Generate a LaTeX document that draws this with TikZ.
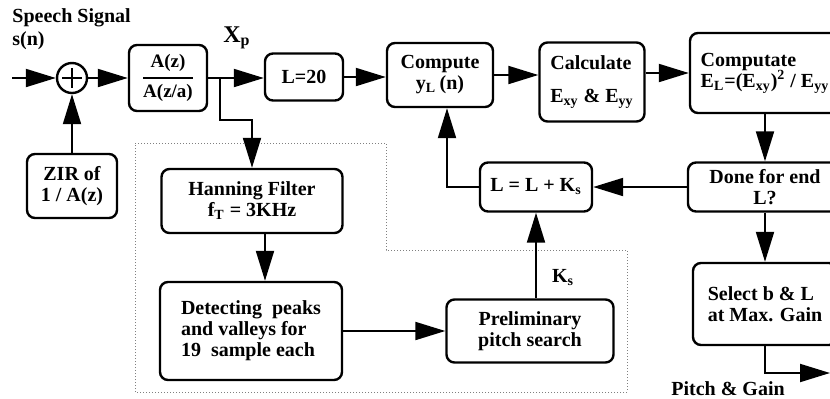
\documentclass[tikz,border=0pt]{standalone}
\usepackage{amsmath}
\usepackage{fontspec}
\setmainfont{Liberation Serif}
\usetikzlibrary{arrows.meta,calc}
\tikzset{
  blk/.style={draw, line width=1.2pt, rounded corners=4pt, align=center,
              font=\bfseries\fontsize{10}{10.5}\selectfont, inner sep=2pt},
  sumnode/.style={circle, draw, line width=1.2pt, minimum size=15pt, inner sep=0pt},
  sig/.style={line width=1pt, -{Triangle[length=15pt,width=9pt]}},
  lbl/.style={font=\bfseries\fontsize{10}{10.5}\selectfont, inner sep=0pt},
  zone/.style={densely dotted, gray, line width=0.5pt},
}

\begin{document}
\begin{tikzpicture}[x=0.5pt, y=-0.5pt]
  \clip (0,0) rectangle (830,398);
  \draw[zone] (135,143) -- (386,143) -- (386,250) -- (627,250) -- (627,392) -- (135,392) -- cycle;

  \node[lbl, anchor=west] (spl) at (12,18) {Speech Signal};
  \node[lbl, anchor=west] (sn) at (12,41) {s(n)};
  \coordinate (in) at (12,78);
  \node[sumnode] (sum) at (72,78) {};
  \draw[line width=1.2pt] ($(sum)+(-10,0)$) -- ($(sum)+(10,0)$)
                          ($(sum)+(0,-10)$) -- ($(sum)+(0,10)$);
  \node[blk, minimum width=39pt, minimum height=33pt,
        font=\bfseries\fontsize{9.5}{10}\selectfont] (filt) at (168,78)
    {$\genfrac{}{}{0.9pt}{0}{\mbox{A(z)}}{\mbox{A(z/a)}}$};
  \node[lbl, font=\bfseries\fontsize{12}{12}\selectfont] (xp) at (237,38) {X\textsubscript{p}};
  \node[blk, minimum width=39pt, minimum height=23.5pt] (l20) at (304,77) {L=20};
  \node[blk, minimum width=53pt, minimum height=32pt] (comp) at (440,75)
    {Compute\\y\textsubscript{L}\,(n)};
  \node[blk, minimum width=52.5pt, minimum height=39.5pt, align=left] (calc) at (592,82)
    {Calculate\\[6pt]E\textsubscript{xy} \& E\textsubscript{yy}};
  \node[blk, minimum width=75pt, minimum height=40pt, align=left] (compt) at (765,73)
    {Computate\\E\textsubscript{L}=(E\textsubscript{xy})\textsuperscript{2} / E\textsubscript{yy}};
  \node[blk, minimum width=77pt, minimum height=24.5pt] (done) at (765,187)
    {Done for end\\L?};
  \node[blk, minimum width=56pt, minimum height=24.5pt] (lpk) at (536,187)
    {L = L + K\textsubscript{s}};
  \node[blk, minimum width=72pt, minimum height=41pt, align=left] (sel) at (765,304)
    {Select b \& L\\at Max. Gain};
  \node[blk, minimum width=45pt, minimum height=32pt] (zir) at (72,186)
    {ZIR of\\1 / A(z)};
  \node[blk, minimum width=90.5pt, minimum height=32pt] (han) at (252,201)
    {Hanning Filter\\f\textsubscript{T} = 3KHz};
  \node[blk, minimum width=91pt, minimum height=49pt, align=left] (det) at (251,331)
    {Detecting\ \ peaks\\and valleys for\\19\ \ sample each};
  \node[blk, minimum width=83.5pt, minimum height=31.5pt] (pre) at (530,331)
    {Preliminary\\pitch search};
  \node[lbl] (ks) at (563,278) {K\textsubscript{s}};
  \node[lbl] (pg) at (728,389) {Pitch \& Gain};
  \coordinate (out) at (830,373);
  \coordinate (br) at (220,78);
  \coordinate (hs) at ($(han.south)+(13,0)$);
  \coordinate (cs) at ($(comp.south)+(7,0)$);

  \draw[sig] (in) -- (sum);
  \draw[sig] (zir) -- (sum);
  \draw[sig] (sum) -- (filt);
  \draw[sig] (filt.east) -- (filt.east -| l20.west);
  \draw[sig] (l20.east) -- (l20.east -| comp.west);
  \draw[sig] (comp.east) -- (comp.east -| calc.west);
  \draw[sig] (calc.east |- compt.west) -- (compt.west);
  \draw[sig] (compt) -- (done);
  \draw[sig] (done) -- (lpk);
  \draw[sig] (done) -- (sel);
  \draw[sig] (lpk.west) -| (cs);
  \draw[sig] (lpk.south |- pre.north) -- (lpk.south);
  \draw[sig] (br) -- ++(0,42) -| (han.north);
  \draw[sig] (hs) -- (hs |- det.north);
  \draw[sig] (det) -- (pre);
  \draw[sig] (sel.south) |- (out);
\end{tikzpicture}
\end{document}
